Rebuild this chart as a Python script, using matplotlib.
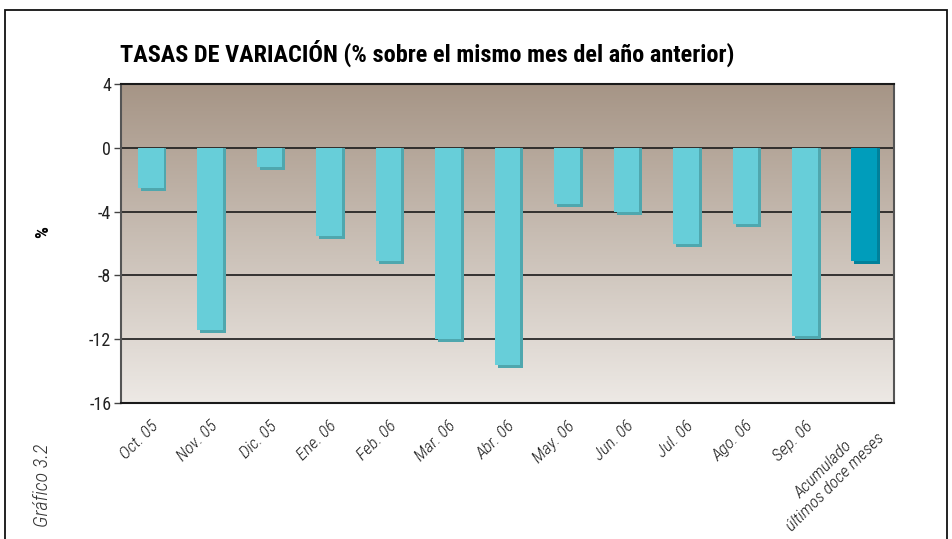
import numpy as np
import matplotlib
matplotlib.use("Agg")
import matplotlib.pyplot as plt
from matplotlib.patches import Rectangle

plt.rcParams['font.family'] = ['Roboto Condensed', 'DejaVu Sans']

categories = ["Oct. 05", "Nov. 05", "Dic. 05", "Ene. 06", "Feb. 06", "Mar. 06",
              "Abr. 06", "May. 06", "Jun. 06", "Jul. 06", "Ago. 06", "Sep. 06",
              "Acumulado\núltimos doce meses"]
values = [-2.5, -11.4, -1.2, -5.5, -7.1, -12.0, -13.6, -3.5, -4.0, -6.0, -4.8, -11.8, -7.1]
yticks = [4, 0, -4, -8, -12, -16]
title = "TASAS DE VARIACIÓN (% sobre el mismo mes del año anterior)"

fig = plt.figure(figsize=(9.52, 5.39), dpi=100)
ax = fig.add_axes([121/952, 1-403/539, (894-121)/952, (403-84)/539])

n = len(categories)
x = np.arange(n)
ax.set_xlim(-0.5, n - 0.5)
ax.set_ylim(-16, 4)

# gradient background
grad = np.linspace(0, 1, 256).reshape(-1, 1)
top = np.array([166, 149, 134]) / 255
bot = np.array([237, 233, 229]) / 255
img = top[None, None, :] * (1 - grad[:, :, None]) + bot[None, None, :] * grad[:, :, None]
ax.imshow(img, extent=[-0.5, n - 0.5, -16, 4], aspect='auto', origin='upper', zorder=0)

for yv in [0, -4, -8, -12]:
    ax.axhline(yv, color='#1a1a1a', lw=1.2, zorder=1)

front = ['#67ced9'] * (n - 1) + ['#009dbb']
shade = ['#4fa7ae'] * (n - 1) + ['#00809a']
w = 0.43
dx, dy = 0.05, 0.19
for xi, v, fc, sc in zip(x, values, front, shade):
    ax.bar(xi + dx, v - dy, width=w, bottom=0, color=sc, zorder=2, linewidth=0)
    ax.bar(xi, v, width=w, color=fc, zorder=3, linewidth=0)

ax.set_yticks(yticks)
ax.set_yticklabels([str(t) for t in yticks], fontsize=13, color='#222222')
ax.tick_params(axis='y', length=5, width=1, color='#444444', pad=2)
ax.set_xticks(x)
ax.set_xticklabels(categories, rotation=45, ha='right', va='top', rotation_mode='anchor',
                   fontsize=12.5, style='italic', fontweight='light', multialignment='center',
                   color='#1a1a1a', linespacing=1.15)
ax.tick_params(axis='x', length=0, pad=11)

for s in ['top', 'bottom']:
    ax.spines[s].set_color('#1a1a1a')
    ax.spines[s].set_linewidth(1.5)
for s in ['left', 'right']:
    ax.spines[s].set_color('#555555')
    ax.spines[s].set_linewidth(1.5)

fig.text(120/952, 1-53/539, title, fontsize=17.5, fontweight='bold', ha='left', va='center')
fig.text(43/952, 1-232/539, "%", fontsize=13.5, fontweight='bold', rotation=90, ha='center', va='center')
fig.text(42/952, 1-485/539, "Gráfico 3.2", fontsize=14.5, style='italic', fontweight='light',
         rotation=90, ha='center', va='center', color='#333333')

fig.patches.append(Rectangle((5/952, -0.05), (947-5)/952, 1.05 - 10/539, transform=fig.transFigure,
                             fill=False, edgecolor='#111111', lw=1.3))

fig.savefig("out.png", dpi=100)
